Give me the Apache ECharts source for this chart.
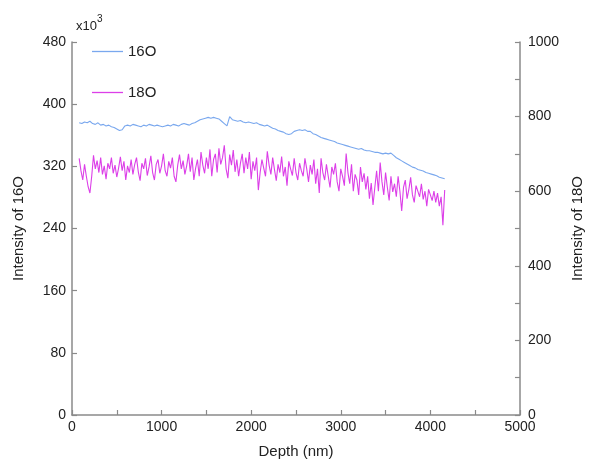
<!DOCTYPE html>
<html>
<head>
<meta charset="utf-8">
<script src="https://cdn.jsdelivr.net/npm/echarts@6/dist/echarts.min.js"></script>
<style>
    html, body { margin: 0; padding: 0; background: #fff; }
    #JS_DepthChart { width: 593px; height: 464px; }
</style>
</head>
<body>
<div id="JS_DepthChart"></div>
<script>
// depth grids of the two profiles (nm)
const depthStart = 80;
const o16Step = 30;
const o18Step = 20;

// 16O intensity, in units of 10^3 (left axis)
const o16 = [
    376, 375, 377, 376, 378, 375, 374, 376, 373, 374,
    372, 373, 371, 370, 368, 366, 367, 372, 373, 372,
    374, 373, 372, 371, 373, 372, 374, 373, 372, 373,
    372, 371, 372, 373, 372, 374, 373, 372, 374, 375,
    374, 373, 375, 376, 378, 380, 381, 382, 383, 382,
    383, 382, 381, 378, 375, 372, 384, 380, 379, 378,
    379, 377, 376, 377, 376, 375, 376, 374, 373, 372,
    373, 371, 369, 368, 366, 365, 364, 362, 361, 362,
    365, 366, 367, 366, 367, 365, 365, 362, 361, 359,
    357, 356, 355, 354, 353, 352, 350, 349, 348, 347,
    346, 345, 344, 343, 342, 343, 341, 340, 340, 339,
    338, 338, 337, 336, 337, 336, 337, 334, 331, 329,
    327, 325, 323, 321, 319, 318, 316, 315, 314, 312,
    311, 310, 309, 308, 306, 305, 304
];

// 18O intensity (right axis)
const o18 = [
    688, 655, 630, 672, 640, 612, 595, 640, 696, 660,
    682, 650, 690, 645, 668, 632, 675, 660, 690, 648,
    670, 638, 662, 692, 655, 680, 630, 668, 650, 685,
    645, 672, 690, 652, 628, 675, 660, 688, 642, 665,
    695, 650, 630, 672, 685, 648, 668, 700, 655, 640,
    680, 662, 690, 640, 625, 670, 698, 660, 682, 645,
    668, 700, 652, 690, 630, 662, 685, 640, 705, 670,
    648, 690, 660, 712, 640, 685, 700, 650, 715, 672,
    690, 723, 660, 635, 698, 670, 710, 652, 685, 640,
    675, 700, 648, 690, 660, 705, 632, 680, 655, 690,
    603, 650, 685, 662, 640, 707, 670, 645, 690, 658,
    628, 672, 650, 693, 640, 665, 615, 680, 660, 642,
    688, 650, 630, 675, 655, 640, 688, 660, 625, 670,
    645, 685, 620, 660, 595, 688, 650, 630, 672, 640,
    610, 665, 645, 675, 625, 600, 660, 640, 615, 701,
    650, 620, 672, 600, 645, 630, 590, 665, 625, 648,
    605, 640, 580, 622, 563, 610, 655, 600, 677, 625,
    590, 650, 610, 575, 640, 598, 620, 585, 640, 600,
    547, 610, 630, 580, 605, 637, 590, 570, 615, 600,
    585, 620, 578, 600, 560, 605, 590, 575, 600, 570,
    595, 560, 585, 509, 603
];

const depthTicks = [0, 1000, 2000, 3000, 4000, 5000];
const leftTicks = [0, 80, 160, 240, 320, 400, 480];
const rightTicks = [0, 200, 400, 600, 800, 1000];

const toPairs = (vals, step) => vals.map((v, i) => [depthStart + i * step, v]);

const fontFamily = '"Liberation Sans", Arial, sans-serif';
const axisColor = '#8a8a8a';
const textColor = '#222';

const axisCommon = {
    axisLine: { show: true, lineStyle: { color: axisColor, width: 1.5 } },
    axisTick: { show: true, inside: true, length: 5, lineStyle: { color: axisColor, width: 1.2 } },
    splitLine: { show: false },
    nameTextStyle: { color: textColor, fontSize: 15, fontFamily: fontFamily }
};

const labelStyle = { color: textColor, fontSize: 14, fontFamily: fontFamily };

const chart = echarts.init(document.getElementById('JS_DepthChart'));
const option = {
    backgroundColor: '#fff',
    animation: false,
    grid: { left: 72, right: 63, top: 42, bottom: 46 },
    legend: {
        orient: 'vertical',
        left: 87,
        top: 39,
        icon: 'rect',
        itemWidth: 31,
        itemHeight: 1.3,
        itemGap: 26,
        textStyle: { color: textColor, fontSize: 15, fontFamily: fontFamily },
        data: ['16O', '18O']
    },
    graphic: [{
        type: 'text',
        left: 76,
        top: 14,
        style: {
            text: '{b|x10}{s|3}',
            rich: {
                b: { fontSize: 13, fontFamily: fontFamily, fill: textColor, padding: [6, 0, 0, 0] },
                s: { fontSize: 10, fontFamily: fontFamily, fill: textColor, verticalAlign: 'top' }
            }
        }
    }],
    xAxis: Object.assign({}, axisCommon, {
        type: 'value',
        min: 0,
        max: 5000,
        interval: 500,
        name: 'Depth (nm)',
        nameLocation: 'middle',
        nameGap: 29,
        axisLabel: Object.assign({}, labelStyle, {
            margin: 5,
            formatter: (v) => depthTicks.indexOf(v) >= 0 ? String(v) : ''
        })
    }),
    yAxis: [
        Object.assign({}, axisCommon, {
            type: 'value',
            min: 0,
            max: 480,
            interval: 80,
            name: 'Intensity of 16O',
            nameLocation: 'middle',
            nameGap: 46,
            axisLabel: Object.assign({}, labelStyle, {
                margin: 6,
                formatter: (v) => leftTicks.indexOf(v) >= 0 ? String(v) : ''
            })
        }),
        Object.assign({}, axisCommon, {
            type: 'value',
            position: 'right',
            min: 0,
            max: 1000,
            interval: 100,
            name: 'Intensity of 18O',
            nameLocation: 'middle',
            nameRotate: 90,
            nameGap: 46,
            axisLabel: Object.assign({}, labelStyle, {
                margin: 8,
                formatter: (v) => rightTicks.indexOf(v) >= 0 ? String(v) : ''
            })
        })
    ],
    series: [
        {
            name: '16O',
            type: 'line',
            yAxisIndex: 0,
            symbol: 'none',
            color: '#7aa8ee',
            lineStyle: { width: 1.1 },
            data: toPairs(o16, o16Step)
        },
        {
            name: '18O',
            type: 'line',
            yAxisIndex: 1,
            symbol: 'none',
            color: '#dc3fe8',
            lineStyle: { width: 1.1 },
            data: toPairs(o18, o18Step)
        }
    ]
};
chart.setOption(option);
</script>
</body>
</html>
